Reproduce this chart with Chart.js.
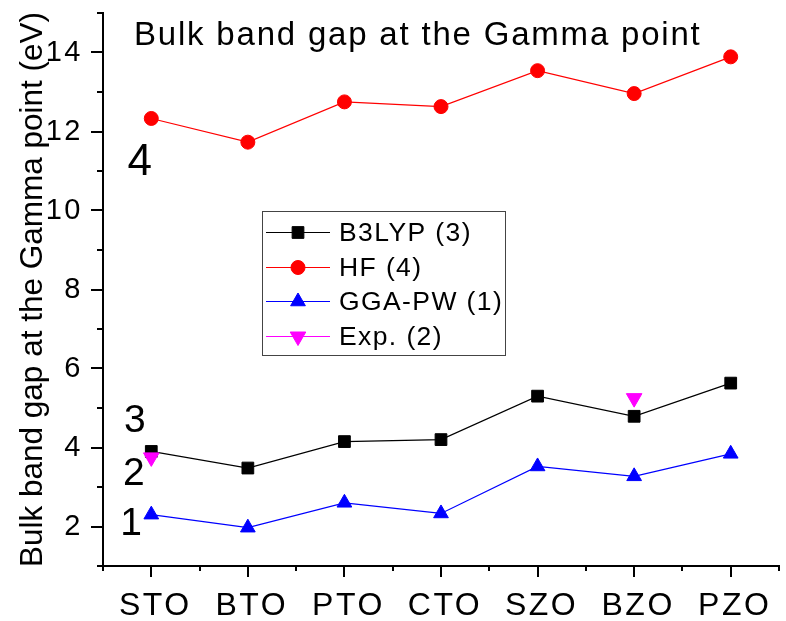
<!DOCTYPE html>
<html>
<head>
<meta charset="utf-8">
<script src="https://cdn.jsdelivr.net/npm/chart.js@4/dist/chart.umd.min.js"></script>
<style>
  html, body { margin: 0; padding: 0; background: #fff; overflow: hidden; }
  #wrap { width: 786px; height: 621px; overflow: hidden; position: relative; }
  canvas { display: block; }
</style>
</head>
<body>
<div id="wrap"><canvas id="gap" width="789" height="621"></canvas></div>
<script>
// Perovskite bulk band gaps at Gamma (eV)
const compounds = ['STO', 'BTO', 'PTO', 'CTO', 'SZO', 'BZO', 'PZO'];
const b3lyp = [3.90, 3.48, 4.15, 4.20, 5.30, 4.79, 5.63];
const hf = [12.33, 11.73, 12.75, 12.63, 13.54, 12.96, 13.89];
const ggaPw = [2.30, 1.97, 2.60, 2.33, 3.52, 3.27, 3.84];
const expt = [3.75, null, null, null, null, 5.25, null];
const yTickValues = [2, 4, 6, 8, 10, 12, 14];
const seriesNames = ['B3LYP (3)', 'HF (4)', 'GGA-PW (1)', 'Exp. (2)'];
const curveTags = ['4', '3', '2', '1'];
const titleText = 'Bulk band gap at the Gamma point';
const yTitleText = 'Bulk band gap at the Gamma point (eV)';

const FONT = "'Liberation Sans', Arial, Helvetica, sans-serif";
Chart.defaults.font.family = FONT;
Chart.defaults.color = '#000';

function setSpacing(ctx, px) {
  if ('letterSpacing' in ctx) ctx.letterSpacing = px + 'px';
}

function marker(ctx, opts, x, y) {
  if (Chart.helpers && Chart.helpers.drawPoint) {
    Chart.helpers.drawPoint(ctx, opts, x, y);
  } else {
    ctx.beginPath();
    ctx.arc(x, y, opts.radius, 0, Math.PI * 2);
    ctx.fill();
  }
}

// Tag placement for each curve, in axis units (category index, eV)
const tagPlacement = [
  { x: -0.12, y: 10.89, size: 44 },
  { x: -0.17, y: 4.38, size: 39 },
  { x: -0.18, y: 3.05, size: 39 },
  { x: -0.21, y: 1.78, size: 39 }
];

const decor = {
  id: 'decor',
  beforeUpdate(chart) { setSpacing(chart.ctx, 2.5); },
  beforeDraw(chart) { setSpacing(chart.ctx, 2.5); },
  afterDraw(chart) {
    const { ctx, chartArea: a, scales: { x, y } } = chart;
    ctx.save();

    // outward tick marks: long at labelled values, short in between
    ctx.strokeStyle = '#000';
    ctx.lineWidth = 2;
    ctx.beginPath();
    for (let i = -0.5; i <= compounds.length - 0.5 + 1e-9; i += 0.5) {
      const px = Math.round(x.getPixelForValue(i));
      const major = Number.isInteger(i);
      ctx.moveTo(px, a.bottom);
      ctx.lineTo(px, a.bottom + (major ? 11 : 5));
    }
    for (let v = y.min; v <= y.max; v += 1) {
      const py = Math.round(y.getPixelForValue(v));
      const major = yTickValues.includes(v);
      ctx.moveTo(a.left, py);
      ctx.lineTo(a.left - (major ? 12 : 6), py);
    }
    ctx.stroke();

    // title inside the plot
    ctx.fillStyle = '#000';
    setSpacing(ctx, 1.8);
    ctx.font = '33px ' + FONT;
    ctx.textAlign = 'left';
    ctx.textBaseline = 'alphabetic';
    ctx.fillText(titleText, a.left + 31, a.top + 32);

    // vertical axis title
    setSpacing(ctx, 0);
    ctx.save();
    ctx.translate(42, (a.top + a.bottom) / 2);
    ctx.rotate(-Math.PI / 2);
    ctx.font = '31.5px ' + FONT;
    ctx.textAlign = 'center';
    ctx.fillText(yTitleText, 0, 0);
    ctx.restore();

    // curve tags
    ctx.textAlign = 'center';
    curveTags.forEach((t, i) => {
      const p = tagPlacement[i];
      ctx.font = p.size + 'px ' + FONT;
      ctx.fillText(t, x.getPixelForValue(p.x), y.getPixelForValue(p.y));
    });

    // legend box
    const lx = a.left + 159, ly = a.top + 198, lw = 243, lh = 144;
    ctx.fillStyle = '#fff';
    ctx.fillRect(lx, ly, lw, lh);
    ctx.strokeStyle = '#444';
    ctx.lineWidth = 1;
    ctx.strokeRect(lx + 0.5, ly + 0.5, lw, lh);
    setSpacing(ctx, 1.4);
    ctx.font = '26.5px ' + FONT;
    ctx.textAlign = 'left';
    ctx.textBaseline = 'middle';
    chart.data.datasets.forEach((ds, i) => {
      const ry = Math.round(ly + 21 + i * 34.5) + 0.5;
      ctx.strokeStyle = ds.borderColor;
      ctx.lineWidth = 1;
      ctx.beginPath();
      ctx.moveTo(lx + 4, ry);
      ctx.lineTo(lx + 68, ry);
      ctx.stroke();
      ctx.fillStyle = ds.pointBackgroundColor;
      ctx.strokeStyle = ds.pointBorderColor;
      marker(ctx, {
        pointStyle: ds.pointStyle,
        radius: ds.pointRadius,
        rotation: ds.pointRotation || 0,
        borderWidth: 1
      }, lx + 36, ry);
      ctx.fillStyle = '#000';
      ctx.fillText(seriesNames[i], lx + 77, ry + 1);
    });

    ctx.restore();
  }
};

function series(label, data, color, style, radius, rotation, order) {
  return {
    label, data,
    borderColor: color,
    backgroundColor: color,
    borderWidth: 1.2,
    pointStyle: style,
    pointRadius: radius,
    pointHoverRadius: radius,
    pointRotation: rotation,
    pointBackgroundColor: color,
    pointBorderColor: color,
    pointBorderWidth: 1,
    spanGaps: false,
    tension: 0,
    order
  };
}

new Chart(document.getElementById('gap'), {
  type: 'line',
  data: {
    labels: compounds,
    datasets: [
      series(seriesNames[0], b3lyp, '#000000', 'rect', 8.3, 0, 1),
      series(seriesNames[1], hf, '#ff0000', 'circle', 7, 0, 2),
      series(seriesNames[2], ggaPw, '#0000ff', 'triangle', 8.5, 0, 3),
      series(seriesNames[3], expt, '#ff00ff', 'triangle', 9, 180, 0)
    ]
  },
  options: {
    responsive: false,
    animation: false,
    events: [],
    layout: { padding: { top: 13, left: 0, right: 0, bottom: 0 } },
    plugins: {
      legend: { display: false },
      title: { display: false },
      tooltip: { enabled: false }
    },
    scales: {
      x: {
        type: 'category',
        offset: true,
        grid: { display: false, drawTicks: false, tickLength: 0 },
        border: { display: true, color: '#000', width: 2 },
        ticks: { font: { size: 32 }, color: '#000', padding: 21, labelOffset: 4, maxRotation: 0, autoSkip: false },
        afterFit(s) { s.height = 55; s.paddingLeft = 0; s.paddingRight = 0; }
      },
      y: {
        type: 'linear',
        min: 1,
        max: 15,
        grid: { display: false, drawTicks: false, tickLength: 0 },
        border: { display: true, color: '#000', width: 2 },
        ticks: {
          stepSize: 1,
          autoSkip: false,
          font: { size: 29 },
          color: '#000',
          padding: 20,
          callback: v => (yTickValues.includes(v) ? String(v) : '')
        },
        afterFit(s) { s.width = 103; s.paddingTop = 0; s.paddingBottom = 0; }
      }
    }
  },
  plugins: [decor]
});
</script>
</body>
</html>
